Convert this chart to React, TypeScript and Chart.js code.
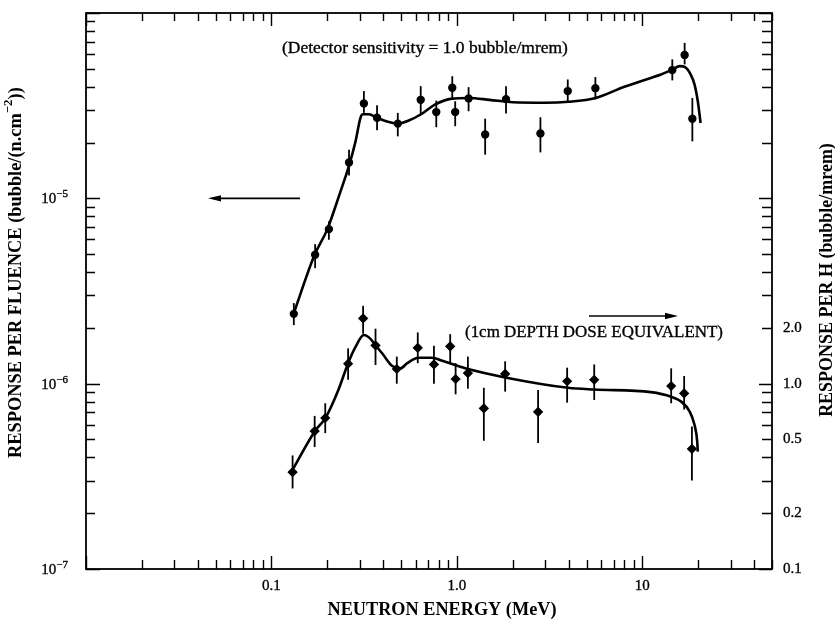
import React, { useEffect, useRef } from 'react';
import { Chart, registerables } from 'chart.js';

Chart.register(...registerables);

// ---------- data ----------
// Response per fluence (left axis, bubble/(n.cm^-2)) — circles
const fluenceEnergy = [0.132, 0.172, 0.204, 0.262, 0.315, 0.371, 0.48, 0.638, 0.774, 0.944, 0.979, 1.156, 1.42, 1.84, 2.82, 3.96, 5.58, 14.5, 16.9, 18.6];
const fluenceResponse = [2.38e-6, 4.96e-6, 6.82e-6, 1.56e-5, 3.25e-5, 2.72e-5, 2.53e-5, 3.4e-5, 2.92e-5, 3.95e-5, 2.92e-5, 3.46e-5, 2.21e-5, 3.43e-5, 2.24e-5, 3.79e-5, 3.93e-5, 4.92e-5, 5.93e-5, 2.69e-5];
const fluenceLow = [2.07e-6, 4.2e-6, 5.98e-6, 1.33e-5, 2.89e-5, 2.33e-5, 2.16e-5, 2.83e-5, 2.42e-5, 3.42e-5, 2.45e-5, 2.95e-5, 1.72e-5, 2.87e-5, 1.77e-5, 3.27e-5, 3.42e-5, 4.33e-5, 5.28e-5, 2.03e-5];
const fluenceHigh = [2.72e-6, 5.66e-6, 7.51e-6, 1.83e-5, 3.79e-5, 3.18e-5, 2.89e-5, 4.03e-5, 3.37e-5, 4.56e-5, 3.34e-5, 3.98e-5, 2.69e-5, 4.03e-5, 2.74e-5, 4.38e-5, 4.51e-5, 5.62e-5, 6.9e-5, 3.48e-5];

// Response per H (right axis, bubble/mrem) — diamonds
const doseEnergy = [0.13, 0.171, 0.195, 0.259, 0.312, 0.364, 0.474, 0.615, 0.752, 0.92, 0.984, 1.146, 1.397, 1.82, 2.74, 3.93, 5.5, 14.3, 16.8, 18.5];
const doseResponse = [0.333, 0.555, 0.653, 1.28, 2.25, 1.61, 1.2, 1.56, 1.27, 1.59, 1.06, 1.14, 0.736, 1.13, 0.704, 1.03, 1.05, 0.972, 0.887, 0.445];
const doseLow = [0.272, 0.455, 0.541, 1.05, 1.86, 1.26, 1.0, 1.29, 1.0, 1.29, 0.876, 0.94, 0.492, 0.906, 0.478, 0.79, 0.817, 0.784, 0.725, 0.3];
const doseHigh = [0.41, 0.67, 0.784, 1.55, 2.63, 1.98, 1.4, 1.89, 1.6, 1.85, 1.29, 1.4, 0.95, 1.32, 0.925, 1.22, 1.27, 1.21, 1.1, 0.587];

// Fitted curves
const fluenceCurveEnergy = [0.132, 0.17, 0.2, 0.235, 0.262, 0.284, 0.302, 0.311, 0.335, 0.371, 0.43, 0.48, 0.55, 0.648, 0.76, 0.94, 1.16, 1.5, 2.0, 3.0, 4.0, 5.6, 8.0, 11.0, 12.6, 14.5, 15.9, 17.0, 18.2, 19.1, 19.9, 20.6];
const fluenceCurveResponse = [2.4e-6, 4.9e-6, 6.8e-6, 1.08e-5, 1.5e-5, 2.03e-5, 2.72e-5, 2.84e-5, 2.84e-5, 2.72e-5, 2.58e-5, 2.53e-5, 2.63e-5, 2.86e-5, 3.2e-5, 3.45e-5, 3.48e-5, 3.4e-5, 3.3e-5, 3.28e-5, 3.32e-5, 3.48e-5, 4.0e-5, 4.45e-5, 4.66e-5, 4.95e-5, 5.17e-5, 5.1e-5, 4.66e-5, 4.12e-5, 3.34e-5, 2.55e-5];
const doseCurveEnergy = [0.13, 0.171, 0.196, 0.23, 0.259, 0.284, 0.315, 0.341, 0.364, 0.397, 0.448, 0.496, 0.54, 0.62, 0.73, 0.85, 1.11, 1.82, 3.97, 5.5, 11.1, 14.3, 16.2, 17.95, 19.1, 19.75, 19.9];
const doseCurveResponse = [0.343, 0.552, 0.656, 0.93, 1.29, 1.58, 1.83, 1.75, 1.61, 1.45, 1.245, 1.21, 1.29, 1.38, 1.38, 1.32, 1.21, 1.08, 0.95, 0.93, 0.9, 0.85, 0.8, 0.71, 0.6, 0.49, 0.43];

// Axes
const xMin = 0.01, xMax = 50;
const yMin = 1e-7, yMax = 1e-4;
const y2Min = 0.1, y2Max = 100;
const xTickValues = [0.1, 1, 10];
const xTickLabels = ['0.1', '1.0', '10'];
const yTickValues = [1e-5, 1e-6, 1e-7];
const yTickExponents = ['\u22125', '\u22126', '\u22127'];
const y2TickValues = [2, 1, 0.5, 0.2, 0.1];
const y2TickLabels = ['2.0', '1.0', '0.5', '0.2', '0.1'];

const xTitle = 'NEUTRON ENERGY (MeV)';
const yTitleMain = 'RESPONSE PER FLUENCE (bubble/(n.cm';
const yTitleSup = '\u22122';
const yTitleEnd = '))';
const y2Title = 'RESPONSE PER H (bubble/mrem)';
const noteTop = '(Detector sensitivity = 1.0 bubble/mrem)';
const noteBottom = '(1cm DEPTH DOSE EQUIVALENT)';

const FAMILY = '"Liberation Serif", "Times New Roman", serif';

function logTicks(min: number, max: number) {
  const out: { v: number; major: boolean }[] = [];
  for (let e = Math.floor(Math.log10(min)); e <= Math.ceil(Math.log10(max)); e++) {
    for (let m = 1; m <= 9; m++) {
      const v = m * Math.pow(10, e);
      if (v >= min * 0.999 && v <= max * 1.001) out.push({ v, major: m === 1 });
    }
  }
  return out;
}

function fitSize(ctx: CanvasRenderingContext2D, parts: { t: string; s: number }[], width: number, weight: string) {
  let total = 0;
  for (const p of parts) {
    ctx.font = `${weight} ${100 * p.s}px ${FAMILY}`;
    total += ctx.measureText(p.t).width;
  }
  return (100 * width) / total;
}

function drawParts(ctx: CanvasRenderingContext2D, parts: { t: string; s: number; dy: number }[], size: number, weight: string, x: number, y: number) {
  let cx = x;
  ctx.textAlign = 'left';
  ctx.textBaseline = 'middle';
  for (const p of parts) {
    ctx.font = `${weight} ${size * p.s}px ${FAMILY}`;
    ctx.fillText(p.t, cx, y + p.dy * size);
    cx += ctx.measureText(p.t).width;
  }
}

function heavyText(ctx: CanvasRenderingContext2D, t: string, x: number, y: number) {
  ctx.fillText(t, x, y);
  ctx.lineWidth = 0.35;
  ctx.strokeText(t, x, y);
}

function arrow(ctx: CanvasRenderingContext2D, x1: number, x2: number, y: number) {
  const dir = Math.sign(x2 - x1);
  ctx.beginPath();
  ctx.moveTo(x1, y);
  ctx.lineTo(x2 - dir * 8, y);
  ctx.lineWidth = 1.6;
  ctx.stroke();
  ctx.beginPath();
  ctx.moveTo(x2, y);
  ctx.lineTo(x2 - dir * 13, y - 3.2);
  ctx.lineTo(x2 - dir * 13, y + 3.2);
  ctx.closePath();
  ctx.fill();
}

const decor = {
  id: 'decor',
  afterDatasetsDraw(chart: any) {
    const ctx: CanvasRenderingContext2D = chart.ctx;
    const xs = chart.scales.x, ys = chart.scales.y, y2s = chart.scales.y2;
    ctx.save();
    ctx.strokeStyle = '#000';
    ctx.fillStyle = '#000';
    ctx.lineWidth = 1.8;
    ctx.lineCap = 'butt';
    fluenceEnergy.forEach((e, i) => {
      const px = xs.getPixelForValue(e);
      ctx.beginPath();
      ctx.moveTo(px, ys.getPixelForValue(fluenceLow[i]));
      ctx.lineTo(px, ys.getPixelForValue(fluenceHigh[i]));
      ctx.stroke();
    });
    doseEnergy.forEach((e, i) => {
      const px = xs.getPixelForValue(e);
      ctx.beginPath();
      ctx.moveTo(px, y2s.getPixelForValue(doseLow[i]));
      ctx.lineTo(px, y2s.getPixelForValue(doseHigh[i]));
      ctx.stroke();
    });
    ctx.restore();
  },
  afterDraw(chart: any) {
    const ctx: CanvasRenderingContext2D = chart.ctx;
    const { left, right, top, bottom } = chart.chartArea;
    const xs = chart.scales.x, ys = chart.scales.y, y2s = chart.scales.y2;
    ctx.save();
    ctx.strokeStyle = '#000';
    ctx.fillStyle = '#000';

    // frame
    ctx.lineWidth = 1.8;
    ctx.strokeRect(left, top, right - left, bottom - top);

    // ticks
    ctx.lineWidth = 1.4;
    ctx.beginPath();
    for (const t of logTicks(xMin, xMax)) {
      const px = Math.round(xs.getPixelForValue(t.v)) + 0.5;
      const lb = t.major ? 13 : 9;
      const lt = t.major ? 13 : 8;
      ctx.moveTo(px, bottom);
      ctx.lineTo(px, bottom - lb);
      ctx.moveTo(px, top);
      ctx.lineTo(px, top + lt);
    }
    for (const t of logTicks(yMin, yMax)) {
      const py = Math.round(ys.getPixelForValue(t.v)) + 0.5;
      ctx.moveTo(left, py);
      ctx.lineTo(left + (t.major ? 14 : 9), py);
    }
    for (const t of logTicks(y2Min, y2Max)) {
      const py = Math.round(y2s.getPixelForValue(t.v)) + 0.5;
      ctx.moveTo(right, py);
      ctx.lineTo(right - (t.major ? 13 : 10), py);
    }
    ctx.stroke();

    // tick labels
    const tickFont = `15px ${FAMILY}`;
    ctx.font = tickFont;
    ctx.textAlign = 'center';
    ctx.textBaseline = 'middle';
    xTickValues.forEach((v, i) => {
      heavyText(ctx, xTickLabels[i], xs.getPixelForValue(v), bottom + 17);
    });
    yTickValues.forEach((v, i) => {
      const py = ys.getPixelForValue(v);
      ctx.font = `11px ${FAMILY}`;
      const ws = ctx.measureText(yTickExponents[i]).width;
      ctx.font = tickFont;
      const wb = ctx.measureText('10').width;
      const xEnd = left - 18;
      ctx.textAlign = 'left';
      heavyText(ctx, '10', xEnd - ws - wb, py + 1);
      ctx.font = `11px ${FAMILY}`;
      heavyText(ctx, yTickExponents[i], xEnd - ws, py - 4);
    });
    ctx.font = tickFont;
    ctx.textAlign = 'left';
    y2TickValues.forEach((v, i) => {
      heavyText(ctx, y2TickLabels[i], right + 11, y2s.getPixelForValue(v));
    });

    // axis titles
    const titleW = 'bold';
    {
      const s = fitSize(ctx, [{ t: xTitle, s: 1 }], 229, titleW);
      ctx.font = `${titleW} ${s}px ${FAMILY}`;
      ctx.textAlign = 'center';
      ctx.textBaseline = 'middle';
      ctx.fillText(xTitle, 442, 610);
    }
    {
      const parts = [
        { t: yTitleMain, s: 1, dy: 0 },
        { t: yTitleSup, s: 0.7, dy: -0.38 },
        { t: yTitleEnd, s: 1, dy: 0 },
      ];
      const s = fitSize(ctx, parts, 371, titleW);
      ctx.save();
      ctx.translate(16, 458);
      ctx.rotate(-Math.PI / 2);
      drawParts(ctx, parts, s, titleW, 0, 0);
      ctx.restore();
    }
    {
      const s = fitSize(ctx, [{ t: y2Title, s: 1 }], 274, titleW);
      ctx.save();
      ctx.translate(827, 280);
      ctx.rotate(-Math.PI / 2);
      ctx.font = `${titleW} ${s}px ${FAMILY}`;
      ctx.textAlign = 'center';
      ctx.textBaseline = 'middle';
      ctx.fillText(y2Title, 0, 0);
      ctx.restore();
    }

    // annotations
    {
      const s = fitSize(ctx, [{ t: noteTop, s: 1 }], 286, 'normal');
      ctx.font = `${s}px ${FAMILY}`;
      ctx.textAlign = 'left';
      ctx.textBaseline = 'middle';
      heavyText(ctx, noteTop, 282, 48);
    }
    {
      const s = fitSize(ctx, [{ t: noteBottom, s: 1 }], 258, 'normal');
      ctx.font = `${s}px ${FAMILY}`;
      ctx.textAlign = 'left';
      ctx.textBaseline = 'middle';
      heavyText(ctx, noteBottom, 465, 333);
    }
    arrow(ctx, 300, 208, ys.getPixelForValue(1e-5));
    arrow(ctx, 589, 678, 316);

    ctx.restore();
  },
};

export default function App() {
  const ref = useRef<HTMLCanvasElement>(null);
  useEffect(() => {
    const canvas = ref.current;
    if (!canvas) return;
    const chart = new Chart(canvas, {
      type: 'scatter',
      data: {
        datasets: [
          {
            type: 'line',
            label: 'Fluence fit',
            data: fluenceCurveEnergy.map((e, i) => ({ x: e, y: fluenceCurveResponse[i] })),
            yAxisID: 'y',
            borderColor: '#000',
            borderWidth: 2.6,
            pointRadius: 0,
            cubicInterpolationMode: 'monotone',
            fill: false,
          },
          {
            type: 'line',
            label: 'Dose fit',
            data: doseCurveEnergy.map((e, i) => ({ x: e, y: doseCurveResponse[i] })),
            yAxisID: 'y2',
            borderColor: '#000',
            borderWidth: 2.6,
            pointRadius: 0,
            cubicInterpolationMode: 'monotone',
            fill: false,
          },
          {
            label: 'Response per fluence',
            data: fluenceEnergy.map((e, i) => ({ x: e, y: fluenceResponse[i] })),
            yAxisID: 'y',
            pointStyle: 'circle',
            pointRadius: 4.8,
            backgroundColor: '#000',
            borderColor: '#fff',
            borderWidth: 1.2,
          },
          {
            label: 'Response per H',
            data: doseEnergy.map((e, i) => ({ x: e, y: doseResponse[i] })),
            yAxisID: 'y2',
            pointStyle: 'rectRot',
            pointRadius: 6,
            backgroundColor: '#000',
            borderColor: '#fff',
            borderWidth: 1.2,
          },
        ],
      } as any,
      options: {
        responsive: false,
        animation: false,
        devicePixelRatio: 1,
        layout: { padding: { left: 86, top: 13, right: 63, bottom: 54 } },
        plugins: { legend: { display: false }, tooltip: { enabled: false } },
        scales: {
          x: { type: 'logarithmic', min: xMin, max: xMax, display: false },
          y: { type: 'logarithmic', min: yMin, max: yMax, display: false },
          y2: { type: 'logarithmic', min: y2Min, max: y2Max, display: false, position: 'right' },
        },
      } as any,
      plugins: [decor],
    });
    return () => chart.destroy();
  }, []);
  return (
    <div style={{ position: 'absolute', left: 0, top: 0, width: 835, height: 623, background: '#fff' }}>
      <canvas ref={ref} width={835} height={623} />
    </div>
  );
}
